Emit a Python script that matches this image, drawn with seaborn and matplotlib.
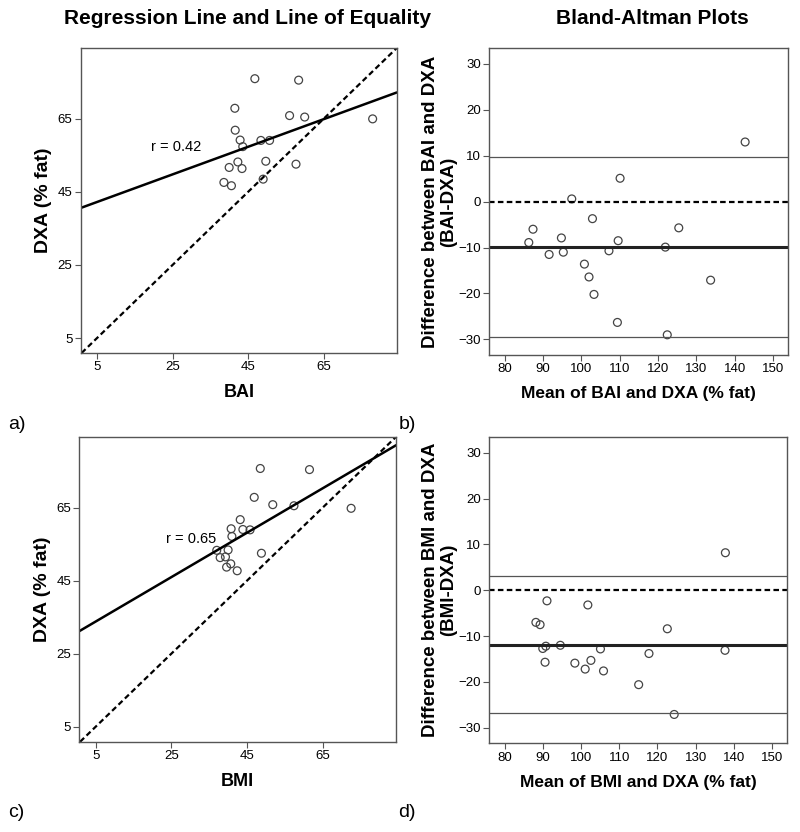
import numpy as np
import pandas as pd
import matplotlib
matplotlib.use("Agg")
import matplotlib.pyplot as plt
import seaborn as sns

# panel a: BAI vs DXA
bai = [46.8, 58.4, 41.5, 56.0, 60.0, 78.0, 41.6, 42.9, 48.4, 50.7, 43.6, 42.3, 49.7, 40.0, 43.4, 57.7, 38.6, 40.6, 49.0]
dxa_a = [76.0, 75.6, 67.9, 65.9, 65.5, 65.0, 61.9, 59.2, 59.1, 59.1, 57.4, 53.2, 53.4, 51.7, 51.4, 52.6, 47.6, 46.7, 48.5]

# panel c: BMI vs DXA
bmi = [48.5, 61.5, 46.9, 51.8, 57.4, 72.5, 43.2, 40.8, 43.9, 45.8, 41.0, 37.0, 40.0, 37.9, 39.3, 48.8, 40.7, 39.6, 42.4]
dxa_c = [75.7, 75.4, 67.8, 65.8, 65.5, 64.8, 61.7, 59.2, 59.0, 58.9, 57.1, 53.3, 53.4, 51.3, 51.5, 52.5, 49.6, 48.7, 47.7]

# panel b: Bland-Altman BAI
ba_mean = [142.7, 110.1, 97.5, 102.9, 87.4, 125.4, 86.3, 94.8, 95.3, 91.6, 109.6, 107.2, 121.9, 100.8, 102.0, 103.3, 133.7, 109.4, 122.4]
ba_diff = [13.0, 5.1, 0.6, -3.7, -6.0, -5.7, -8.9, -7.9, -11.0, -11.5, -8.5, -10.7, -9.9, -13.6, -16.4, -20.2, -17.1, -26.3, -29.0]

# panel d: Bland-Altman BMI
bm_mean = [137.8, 91.1, 101.8, 88.2, 89.3, 122.6, 90.8, 90.0, 94.6, 105.1, 137.7, 117.8, 90.6, 98.4, 102.6, 101.1, 105.9, 115.1, 124.4]
bm_diff = [8.2, -2.3, -3.2, -7.0, -7.5, -8.4, -12.2, -12.7, -12.0, -12.8, -13.1, -13.8, -15.7, -15.9, -15.3, -17.2, -17.6, -20.6, -27.1]

r_labels = ["r = 0.42", "r = 0.65"]

sns.set_style("white")
plt.rcParams['font.family'] = ['Liberation Sans', 'DejaVu Sans']
plt.rcParams['text.color'] = 'black'
plt.rcParams['axes.labelcolor'] = 'black'
plt.rcParams['xtick.color'] = 'black'
plt.rcParams['ytick.color'] = 'black'

fig = plt.figure(figsize=(8, 8.32), dpi=100)
ax_a = fig.add_axes([0.101, 0.5757, 0.395, 0.3666])
ax_b = fig.add_axes([0.6116, 0.5733, 0.374, 0.3686])
ax_c = fig.add_axes([0.0992, 0.1085, 0.396, 0.3666])
ax_d = fig.add_axes([0.6116, 0.1066, 0.3725, 0.3678])

pt_kw = dict(s=32, facecolor="none", edgecolor="#444444", linewidth=0.9, marker="o")


def style(ax):
    for sp in ax.spines.values():
        sp.set_color("#555555")
        sp.set_linewidth(1.0)
    ax.tick_params(axis="both", which="both", direction="out", length=4, width=0.8,
                   color="#555555", labelsize=9.5, pad=2, bottom=True, left=True)


def reg_panel(ax, x, y, xlab, rtxt, rpos):
    ax.set_xlim(0.7, 84.4)
    ax.set_ylim(0.9, 84.4)
    ax.axline((0, 0), slope=1, color="black", ls=(0, (2.5, 1.5)), lw=1.6)
    sns.regplot(x=x, y=y, ax=ax, scatter=False, ci=None, truncate=False,
                line_kws=dict(color="black", lw=1.8))
    sns.scatterplot(x=x, y=y, ax=ax, **pt_kw)
    ax.set_xticks([5, 25, 45, 65])
    ax.set_yticks([5, 25, 45, 65])
    ax.set_xlabel(xlab, fontsize=13, fontweight="bold", labelpad=8)
    ax.set_ylabel("DXA (% fat)", fontsize=14, fontweight="bold", labelpad=4)
    ax.text(rpos[0], rpos[1], rtxt, fontsize=10.5, va="center", ha="left")
    style(ax)


def ba_panel(ax, m, d, xlab, ylab):
    ax.set_xlim(76, 154)
    ax.set_ylim(-33.4, 33.4)
    md = np.mean(d)
    sd = np.std(d, ddof=1)
    ax.axhline(0, color="black", ls=(0, (2.5, 1.5)), lw=1.6)
    ax.axhline(md, color="#222222", lw=2.2)
    ax.axhline(md + 1.96 * sd, color="#555555", lw=0.9)
    ax.axhline(md - 1.96 * sd, color="#555555", lw=0.9)
    sns.scatterplot(x=m, y=d, ax=ax, **pt_kw)
    ax.set_xticks(np.arange(80, 151, 10))
    ax.set_yticks(np.arange(-30, 31, 10))
    ax.set_xlabel(xlab, fontsize=12.5, fontweight="bold", labelpad=8)
    ax.set_ylabel(ylab, fontsize=13.5, fontweight="bold", labelpad=1, linespacing=1.05)
    style(ax)


reg_panel(ax_a, bai, dxa_a, "BAI", r_labels[0], (19.4, 57.4))
reg_panel(ax_c, bmi, dxa_c, "BMI", r_labels[1], (23.7, 56.4))
ba_panel(ax_b, ba_mean, ba_diff, "Mean of BAI and DXA (% fat)",
         "Difference between BAI and DXA\n(BAI-DXA)")
ba_panel(ax_d, bm_mean, bm_diff, "Mean of BMI and DXA (% fat)",
         "Difference between BMI and DXA\n(BMI-DXA)")

fig.text(0.309, 0.978, "Regression Line and Line of Equality", fontsize=15,
         fontweight="bold", ha="center", va="center")
fig.text(0.815, 0.978, "Bland-Altman Plots", fontsize=15,
         fontweight="bold", ha="center", va="center")

for lab, xy in zip(["a)", "b)", "c)", "d)"],
                   [(0.01, 0.49), (0.498, 0.49), (0.01, 0.023), (0.498, 0.023)]):
    fig.text(xy[0], xy[1], lab, fontsize=14, ha="left", va="center")

fig.savefig("out.png", dpi=100)
